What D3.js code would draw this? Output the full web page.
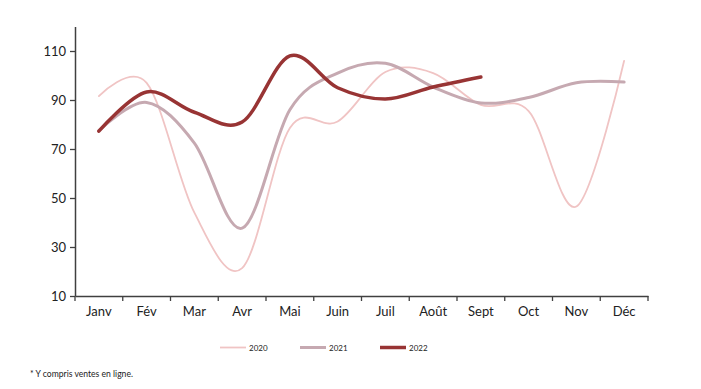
<!DOCTYPE html>
<html><head><meta charset="utf-8">
<script src="https://cdn.jsdelivr.net/npm/d3@7"></script>
<style>body{margin:0;background:#fff}svg{display:block}</style>
</head><body><svg id="c" width="701" height="389"></svg>
<script>
const months = ["Janv","Fév","Mar","Avr","Mai","Juin","Juil","Août","Sept","Oct","Nov","Déc"];
const yTicks = [10,30,50,70,90,110];
const s2020 = [91.6,97,44,21.4,78.6,81.2,101.4,101,88,85.5,46.5,106];
const s2021 = [77.5,89,72.4,37.7,86,101,105,95.3,88.8,91,97,97.3];
const s2022 = [77.3,93.3,85,81,108,95,90.4,95.3,99.4];
const seriesNames = ["2020","2021","2022"];
const colors = ["#f0c4c4","#c6a9b1","#983434"];
const widths = [1.8,3,3.5];

const svg = d3.select("#c");
const x = d3.scaleBand().domain(months).range([75,648]);
const y = d3.scaleLinear().domain([10,120]).range([296,26.5]);
const font = "Lato, 'Open Sans', sans-serif";

// axes
const ya = svg.append("g").attr("transform","translate(75,0)")
  .call(d3.axisLeft(y).tickValues(yTicks).tickSize(5).tickSizeOuter(0));
ya.select(".domain").attr("stroke","#404040").attr("stroke-width",1.5);
ya.selectAll(".tick line").attr("stroke","#404040").attr("stroke-width",1.3);
ya.selectAll("text").attr("font-family",font).attr("font-size",13).attr("fill","#222").attr("x",-9);

const xa = svg.append("g").attr("transform","translate(0,296)")
  .call(d3.axisBottom(x).tickSize(0));
xa.select(".domain").attr("stroke","#404040").attr("stroke-width",1.5);
xa.selectAll("text").attr("font-family",font).attr("font-size",13).attr("fill","#222").attr("dy","1.3em");
xa.selectAll(".tick line").remove();
// boundary ticks
const bounds = months.map(m=>x(m)).concat([x.range()[1]]);
xa.selectAll(".bt").data(bounds).enter().append("line")
  .attr("x1",d=>d).attr("x2",d=>d).attr("y1",0).attr("y2",5)
  .attr("stroke","#404040").attr("stroke-width",1.3);

const line = d3.line()
  .x((d,i)=>x(months[i])+x.bandwidth()/2)
  .y(d=>y(d))
  .curve(d3.curveCardinal.tension(0));

[s2020,s2021,s2022].forEach((s,k)=>{
  svg.append("path").datum(s).attr("d",line).attr("fill","none")
    .attr("stroke",colors[k]).attr("stroke-width",widths[k]).attr("stroke-linecap","round");
});

// legend
const lx = [220,300,380];
seriesNames.forEach((n,k)=>{
  svg.append("line").attr("x1",lx[k]).attr("x2",lx[k]+26).attr("y1",347.5).attr("y2",347.5)
    .attr("stroke",colors[k]).attr("stroke-width",widths[k]);
  svg.append("text").attr("x",lx[k]+29).attr("y",350.5).text(n)
    .attr("font-family",font).attr("font-size",8).attr("fill","#222");
});
svg.append("text").attr("x",30).attr("y",377).text("* Y compris ventes en ligne.")
  .attr("font-family",font).attr("font-size",8.6).attr("fill","#222");
</script></body></html>
